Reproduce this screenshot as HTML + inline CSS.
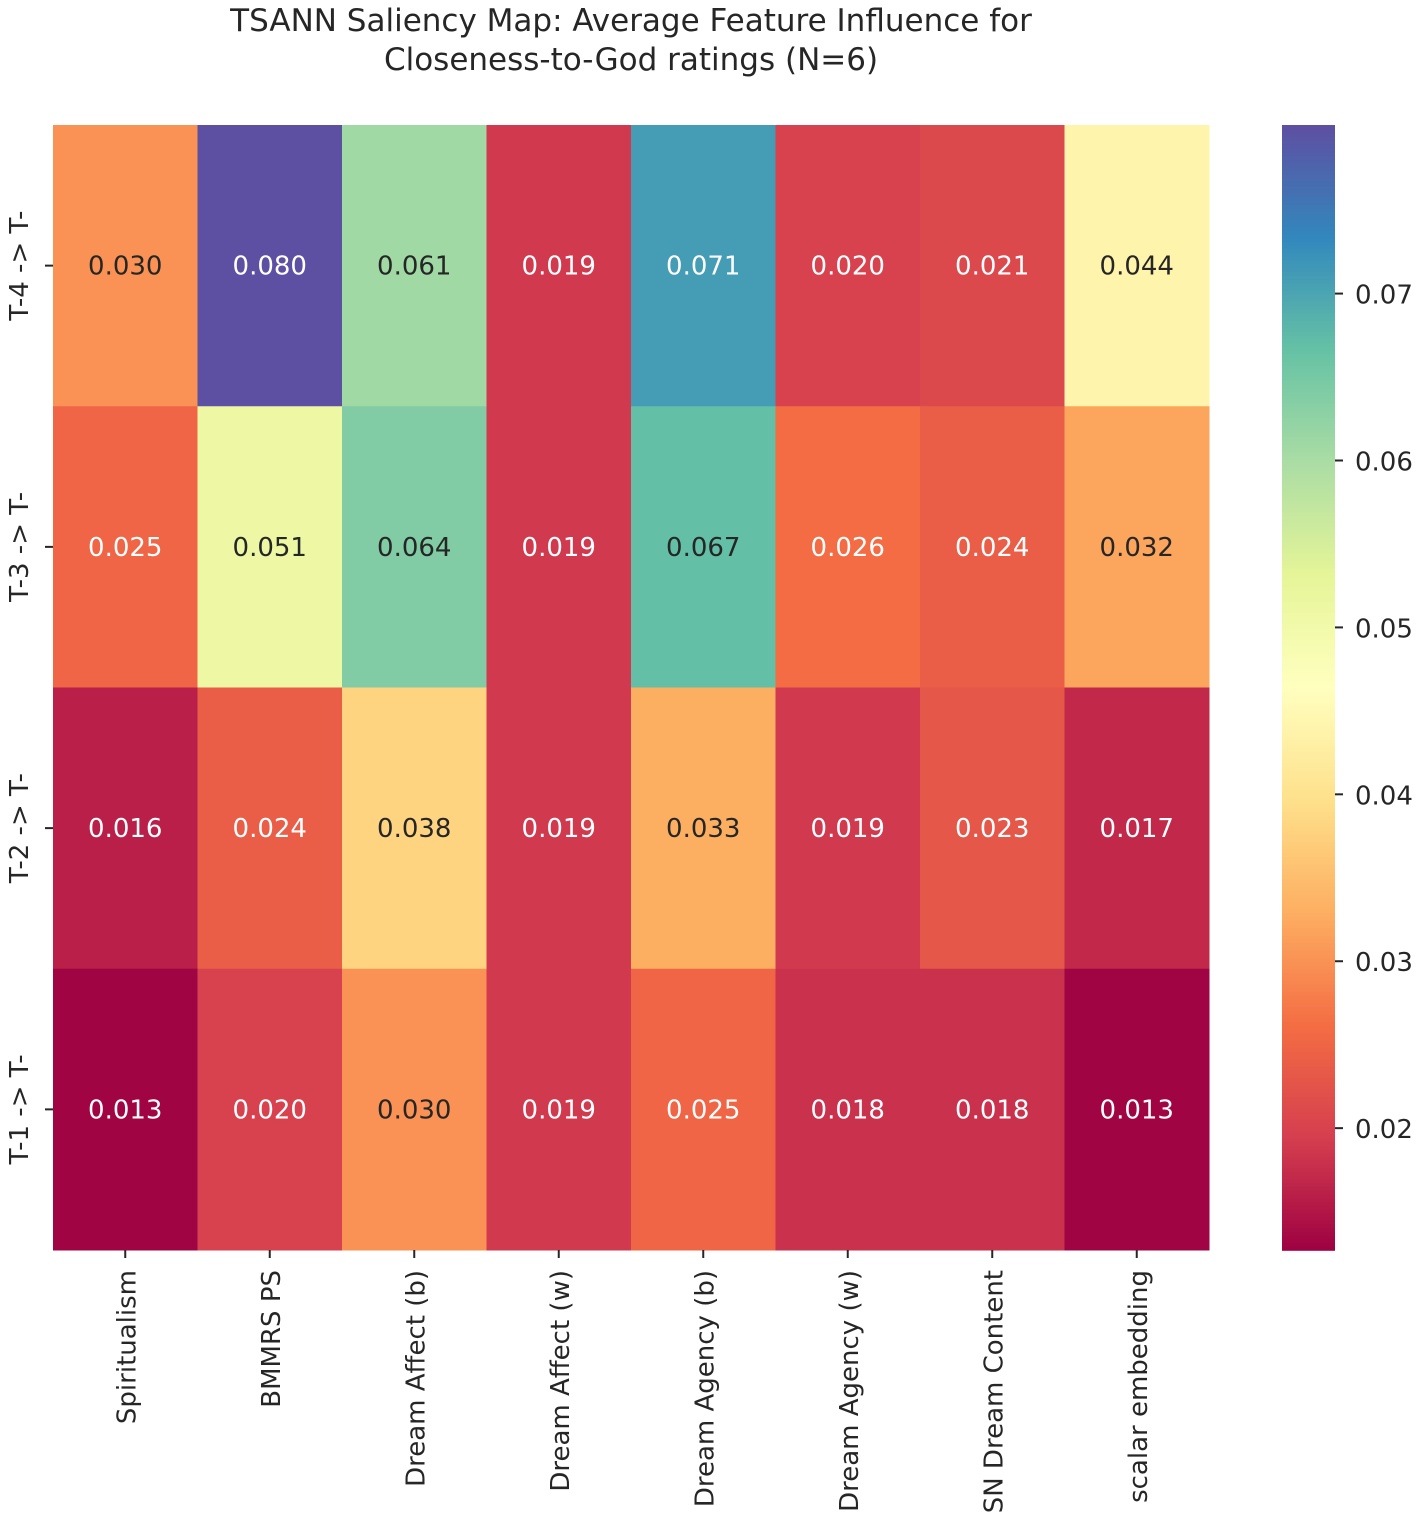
<!DOCTYPE html>
<html><head><meta charset="utf-8">
<style>
html,body{margin:0;padding:0;background:#fff;width:1417px;height:1518px;overflow:hidden}
text{font-family:"DejaVu Sans","Liberation Sans",sans-serif}
</style></head>
<body>
<svg id="chart" width="1417" height="1518" xmlns="http://www.w3.org/2000/svg">
<text x="631" y="31" font-size="31" text-anchor="middle" fill="#262626">TSANN Saliency Map: Average Feature Influence for</text>
<text x="631" y="70" font-size="31" text-anchor="middle" fill="#262626">Closeness-to-God ratings (N=6)</text>
<g id="cells"></g>
<g id="xaxis"></g>
<g id="yaxis"></g>
<g id="cbar"></g>
</svg>
<script>
const features = ["Spiritualism","BMMRS PS","Dream Affect (b)","Dream Affect (w)","Dream Agency (b)","Dream Agency (w)","SN Dream Content","scalar embedding"];
const lags = ["T-4 -> T-","T-3 -> T-","T-2 -> T-","T-1 -> T-"];
const rowT4 = [0.030,0.080,0.061,0.019,0.071,0.020,0.021,0.044];
const rowT3 = [0.025,0.051,0.064,0.019,0.067,0.026,0.024,0.032];
const rowT2 = [0.016,0.024,0.038,0.019,0.033,0.019,0.023,0.017];
const rowT1 = [0.013,0.020,0.030,0.019,0.025,0.018,0.018,0.013];
const cbarTicks = [0.02,0.03,0.04,0.05,0.06,0.07];
const rows = [rowT4,rowT3,rowT2,rowT1];
const vmin = 0.0127, vmax = 0.0801;

const NS="http://www.w3.org/2000/svg";
const X0=53,X1=1209,Y0=125,Y1=1250;
const cw=(X1-X0)/features.length, rh=(Y1-Y0)/lags.length;
const xs=i=>X0+i*cw, ys=j=>Y0+j*rh;
const spectral=["#9e0142","#d53e4f","#f46d43","#fdae61","#fee08b","#ffffbf","#e6f598","#abdda4","#66c2a5","#3288bd","#5e4fa2"].map(h=>[1,3,5].map(k=>parseInt(h.substr(k,2),16)));
function cmap(v){let t=Math.max(0,Math.min(1,(v-vmin)/(vmax-vmin)))*(spectral.length-1);let i=Math.min(Math.floor(t),spectral.length-2),f=t-i;const c=spectral[i].map((a,k)=>Math.round(a+(spectral[i+1][k]-a)*f));return c;}
function lum(c){const l=c.map(x=>{x/=255;return x<=0.03928?x/12.92:Math.pow((x+0.055)/1.055,2.4)});return 0.2126*l[0]+0.7152*l[1]+0.0722*l[2];}
function el(tag,attrs,parent){const e=document.createElementNS(NS,tag);for(const k in attrs)e.setAttribute(k,attrs[k]);parent.appendChild(e);return e;}
const gC=document.getElementById('cells');
rows.forEach((row,j)=>row.forEach((v,i)=>{
  const c=cmap(v);
  const r=el('rect',{x:xs(i),y:ys(j),width:cw+0.5,height:rh+0.5,fill:`rgb(${c})`},gC);
  
  
  const t=el('text',{x:xs(i)+cw/2,y:ys(j)+rh/2+9,'font-size':26,'text-anchor':'middle',fill:lum(c)>0.408?'#262626':'#ffffff'},gC);
  
  
  t.textContent=v.toFixed(3);
}));
const gX=document.getElementById('xaxis');
features.forEach((f,i)=>{
  const cx=xs(i)+cw/2;
  el('line',{x1:cx,x2:cx,y1:Y1,y2:Y1+8,stroke:'#262626','stroke-width':2},gX);
  const t=el('text',{x:0,y:0,'font-size':26,'text-anchor':'end',fill:'#262626',transform:`translate(${cx+10},1270) rotate(-90)`},gX);
  
  
  t.textContent=f;
});
const gY=document.getElementById('yaxis');
lags.forEach((l,j)=>{
  const cy=ys(j)+rh/2;
  el('line',{x1:X0-8,x2:X0,y1:cy,y2:cy,stroke:'#262626','stroke-width':2},gY);
  const t=el('text',{x:0,y:0,'font-size':26,'text-anchor':'middle',fill:'#262626',transform:`translate(28,${cy}) rotate(-90)`},gY);
  
  
  t.textContent=l;
});
const gB=document.getElementById('cbar');
const CX=1282,CW=53;
const cy=v=>Y1-(v-vmin)/(vmax-vmin)*(Y1-Y0);
const N=300;
for(let k=0;k<N;k++){const v=vmin+(vmax-vmin)*(k+0.5)/N;const c=cmap(v);const yT=cy(vmin+(vmax-vmin)*(k+1)/N);el('rect',{x:CX,y:yT,width:CW,height:(Y1-Y0)/N+0.8,fill:`rgb(${c})`},gB);}
cbarTicks.forEach(v=>{
  const y=cy(v);
  el('line',{x1:CX+CW,x2:CX+CW+8,y1:y,y2:y,stroke:'#262626','stroke-width':2},gB);
  const t=el('text',{x:1355,y:y+10,'font-size':26,fill:'#262626'},gB);
  
  
  t.textContent=v.toFixed(2);
});
</script>
</body></html>
